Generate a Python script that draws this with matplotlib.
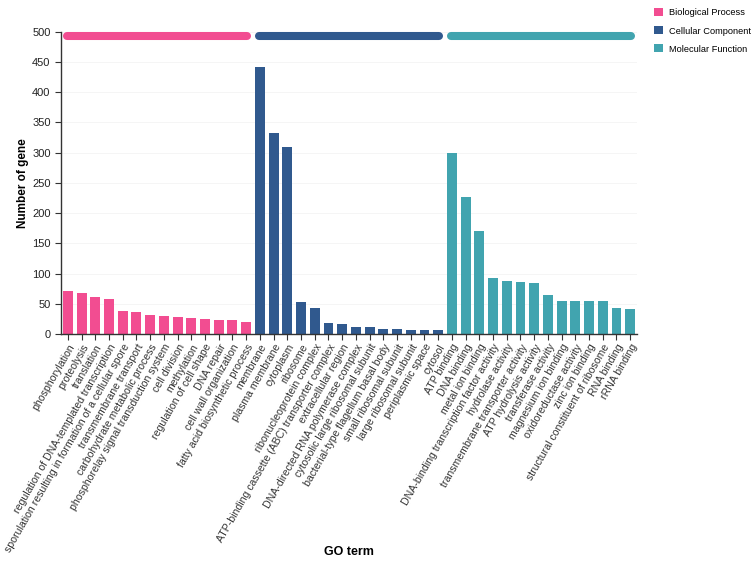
import matplotlib.pyplot as plt
from matplotlib.patches import Patch

plt.rcParams['font.family'] = ['Liberation Sans', 'DejaVu Sans']

# GO terms per category
bp_terms = ['phosphorylation', 'proteolysis', 'translation',
            'regulation of DNA-templated transcription',
            'sporulation resulting in formation of a cellular spore',
            'transmembrane transport', 'carbohydrate metabolic process',
            'phosphorelay signal transduction system', 'cell division',
            'methylation', 'regulation of cell shape', 'DNA repair',
            'cell wall organization', 'fatty acid biosynthetic process']
bp_counts = [71, 68, 61, 58, 38, 36, 32, 30, 28, 27, 24, 23, 23, 20]

cc_terms = ['membrane', 'plasma membrane', 'cytoplasm', 'ribosome',
            'ribonucleoprotein complex',
            'ATP-binding cassette (ABC) transporter complex',
            'extracellular region', 'DNA-directed RNA polymerase complex',
            'cytosolic large ribosomal subunit',
            'bacterial-type flagellum basal body', 'small ribosomal subunit',
            'large ribosomal subunit', 'periplasmic space', 'cytosol']
cc_counts = [441, 333, 310, 53, 43, 18, 16, 12, 12, 8, 8, 7, 6, 6]

mf_terms = ['ATP binding', 'DNA binding', 'metal ion binding',
            'DNA-binding transcription factor activity', 'hydrolase activity',
            'transmembrane transporter activity', 'ATP hydrolysis activity',
            'transferase activity', 'magnesium ion binding',
            'oxidoreductase activity', 'zinc ion binding',
            'structural constituent of ribosome', 'RNA binding', 'rRNA binding']
mf_counts = [299, 227, 170, 93, 88, 86, 84, 65, 55, 55, 55, 55, 43, 42]

categories = ['Biological Process', 'Cellular Component', 'Molecular Function']
colors = ['#F24D91', '#30598E', '#41A4AF']

groups = [(bp_terms, bp_counts), (cc_terms, cc_counts), (mf_terms, mf_counts)]

fig = plt.figure(figsize=(7.53, 5.67), dpi=100)
ax = fig.add_axes([0.081, 0.411, 0.765, 0.533])

bar_w = 0.72
labels = []
start = 0
for (terms, counts), cat, col in zip(groups, categories, colors):
    xs = list(range(start, start + len(terms)))
    ax.bar(xs, counts, width=bar_w, color=col, edgecolor='none', zorder=2)
    # rounded strip marking the category on top
    ax.plot([xs[0] - bar_w / 2 + 0.29, xs[-1] + bar_w / 2 - 0.29], [493, 493],
            color=col, lw=5.8, solid_capstyle='round', zorder=3, clip_on=False)
    labels += terms
    start += len(terms)

ax.set_xlim(-0.5, len(labels) - 0.5)
ax.set_ylim(0, 500)
ax.set_yticks(range(0, 501, 50))
ax.set_xticks(range(len(labels)))
ax.set_xticklabels(labels, rotation=60, ha='right', rotation_mode='anchor',
                   fontsize=7.6, color='#222222')
ax.tick_params(axis='y', labelsize=8, colors='#333333', length=4)
ax.tick_params(axis='x', length=4, colors='#333333', pad=2)
for lab in ax.get_yticklabels():
    lab.set_color('#222222')

ax.grid(axis='y', color='#f4f4f4', lw=0.6, zorder=0)
ax.set_axisbelow(True)
for s in ['top', 'right']:
    ax.spines[s].set_visible(False)
for s in ['left', 'bottom']:
    ax.spines[s].set_color('#333333')
    ax.spines[s].set_linewidth(1)

ax.set_ylabel('Number of gene', fontsize=8.5, fontweight='bold', labelpad=2)
fig.text(0.4635, 0.026, 'GO term', fontsize=9, fontweight='bold',
         ha='center', va='center')

handles = [Patch(facecolor=c, edgecolor='none') for c in colors]
fig.legend(handles, categories, loc='upper left', bbox_to_anchor=(0.864, 0.992),
           frameon=False, fontsize=6.7, handlelength=0.95, handleheight=0.95,
           handletextpad=0.6, labelspacing=0.95, borderaxespad=0)

fig.savefig('out.png', dpi=100)
